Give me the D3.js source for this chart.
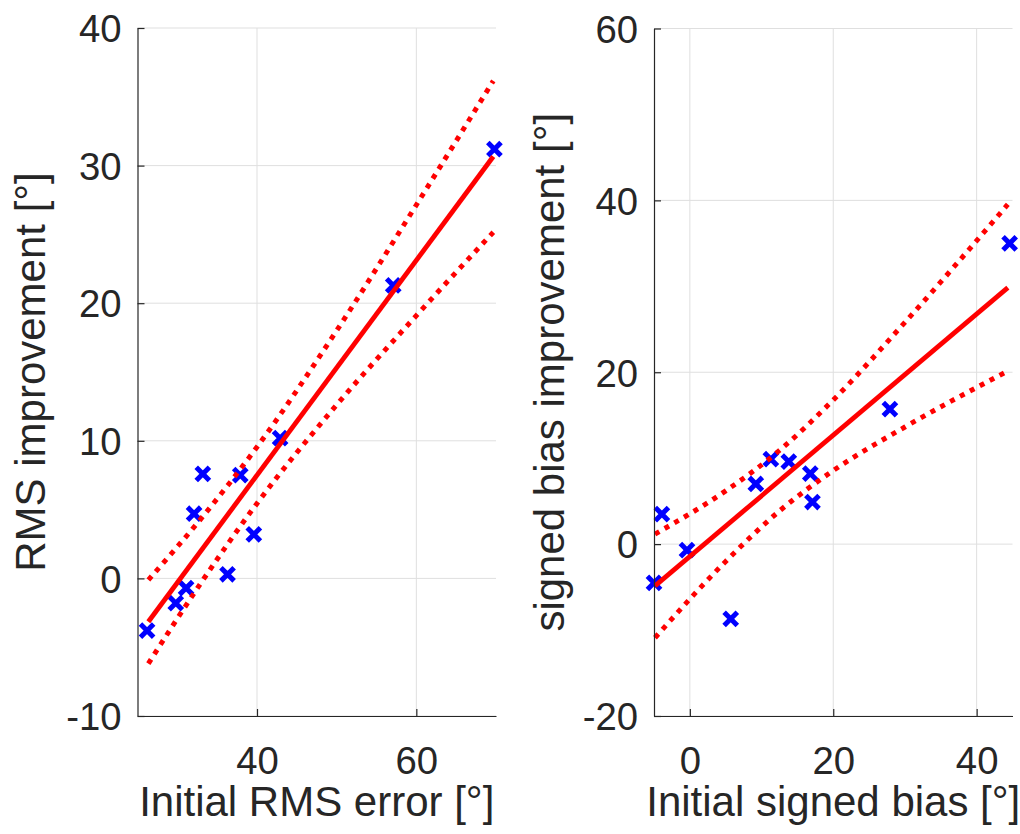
<!DOCTYPE html>
<html><head><meta charset="utf-8">
<script src="https://cdn.jsdelivr.net/npm/d3@7"></script>
<style>
html,body{margin:0;padding:0;background:#fff;}
svg{display:block;}
text{font-family:"Liberation Sans",Arial,Helvetica,sans-serif;fill:#262626;}
</style></head><body>
<svg id="chart" width="1020" height="834"></svg>
<script>
// ---- Left panel data ----
const rmsInitial = [26.2, 29.8, 31.1, 32.1, 33.2, 36.3, 37.9, 39.6, 42.9, 57.1, 69.8];
const rmsImprove = [-3.8, -1.8, -0.7, 4.7, 7.6, 0.3, 7.5, 3.2, 10.2, 21.3, 31.2];
const rmsFitX = [26.36, 69.66];
const rmsFitY = [-3.15, 30.66];
const rmsBandX = [26.36, 33, 40, 50, 60, 69.66];
const rmsBandUpper = [-0.11, 4.36, 9.55, 18.01, 27.14, 36.16];
const rmsBandLower = [-6.19, -0.30, 5.45, 12.61, 19.10, 25.16];
const rmsXTicks = [40, 60];
const rmsYTicks = [-10, 0, 10, 20, 30, 40];

// ---- Right panel data ----
const biasInitial = [-5.0, -3.9, -0.4, 5.7, 9.2, 11.3, 13.8, 16.8, 17.1, 27.9, 44.6];
const biasImprove = [-4.5, 3.5, -0.7, -8.7, 7.0, 9.9, 9.6, 8.2, 4.9, 15.7, 35.0];
const biasFitX = [-4.86, 44.35];
const biasFitY = [-4.86, 29.84];
const biasBandX = [-4.86, 5, 12.5, 20, 30, 44.35];
const biasBandUpper = [1.17, 6.20, 10.90, 16.78, 25.81, 39.54];
const biasBandLower = [-10.89, -2.01, 3.86, 8.56, 13.63, 20.14];
const biasXTicks = [0, 20, 40];
const biasYTicks = [-20, 0, 20, 40, 60];

const svg = d3.select("#chart");
const TICK_FS = 38.3, LABEL_FS = 42;

function panel(cfg){
  const x = d3.scaleLinear().domain(cfg.xDomain).range([cfg.left, cfg.right]);
  const y = d3.scaleLinear().domain(cfg.yDomain).range([cfg.bottom, cfg.top]);
  const g = svg.append("g");
  // grid
  g.append("g").selectAll("line.gx").data(cfg.xTicks).join("line")
    .attr("x1", d=>x(d)).attr("x2", d=>x(d)).attr("y1", cfg.top).attr("y2", cfg.bottom)
    .attr("stroke", "#dfdfdf").attr("stroke-width", 1);
  g.append("g").selectAll("line.gy").data(cfg.yTicks).join("line")
    .attr("x1", cfg.left).attr("x2", cfg.right).attr("y1", d=>y(d)).attr("y2", d=>y(d))
    .attr("stroke", "#dfdfdf").attr("stroke-width", 1);

  // markers
  const pts = cfg.xs.map((v,i)=>[v, cfg.ys[i]]);
  const s = 6.6;
  g.append("g").selectAll("path").data(pts).join("path")
    .attr("d", d=>{const cx=x(d[0]), cy=y(d[1]);
      return `M${cx-s},${cy-s}L${cx+s},${cy+s}M${cx-s},${cy+s}L${cx+s},${cy-s}`;})
    .attr("stroke", "#0000ff").attr("stroke-width", 5).attr("fill","none");

  // fit line
  const line = d3.line().x(d=>x(d[0])).y(d=>y(d[1]));
  g.append("path").datum(cfg.fitX.map((v,i)=>[v, cfg.fitY[i]]))
    .attr("d", line).attr("stroke", "#ff0000").attr("stroke-width", 4.8).attr("fill","none");
  const curve = d3.line().x(d=>x(d[0])).y(d=>y(d[1])).curve(d3.curveMonotoneX);
  [cfg.bandU, cfg.bandL].forEach(b=>{
    g.append("path").datum(cfg.bandX.map((v,i)=>[v, b[i]]))
      .attr("d", curve).attr("stroke", "#ff0000").attr("stroke-width", 5)
      .attr("stroke-dasharray", "5,6.2").attr("fill","none");
  });

  // axes
  const fmt = d => String(d);
  const ax = g.append("g").attr("transform", `translate(0,${cfg.bottom})`)
    .call(d3.axisBottom(x).tickValues(cfg.xTicks).tickSizeInner(-7).tickSizeOuter(0).tickFormat(fmt));
  ax.selectAll("text").attr("y", 57.5).attr("dy", 0).style("font-size", TICK_FS+"px").attr("fill","#262626");
  const ay = g.append("g").attr("transform", `translate(${cfg.left},0)`)
    .call(d3.axisLeft(y).tickValues(cfg.yTicks).tickSizeInner(-7).tickSizeOuter(0).tickFormat(fmt));
  ay.selectAll("text").attr("x", -16).attr("dy", "0.36em").style("font-size", TICK_FS+"px").attr("fill","#262626");
  [ax, ay].forEach(a=>{
    a.select(".domain").attr("stroke", "#262626").attr("stroke-width", 1.2);
    a.selectAll(".tick line").attr("stroke", "#262626").attr("stroke-width", 1.2);
    a.attr("font-family", null).attr("font-size", null);
  });

  // labels
  svg.append("text").attr("x", (cfg.left+cfg.right)/2).attr("y", 816)
    .attr("text-anchor","middle").style("font-size", LABEL_FS+"px").text(cfg.xLabel);
  svg.append("text").attr("transform", `translate(${cfg.yLabelX},${(cfg.top+cfg.bottom)/2}) rotate(-90)`)
    .attr("text-anchor","middle").style("font-size", LABEL_FS+"px").text(cfg.yLabel);
}

panel({left:137.5, right:496, top:28, bottom:716, xDomain:[25,70], yDomain:[-10,40],
  xs:rmsInitial, ys:rmsImprove, fitX:rmsFitX, fitY:rmsFitY,
  bandX:rmsBandX, bandU:rmsBandUpper, bandL:rmsBandLower,
  xTicks:rmsXTicks, yTicks:rmsYTicks,
  xLabel:"Initial RMS error [°]", yLabel:"RMS improvement [°]", yLabelX:45});

panel({left:654, right:1012.5, top:28.5, bottom:716, xDomain:[-5,45], yDomain:[-20,60],
  xs:biasInitial, ys:biasImprove, fitX:biasFitX, fitY:biasFitY,
  bandX:biasBandX, bandU:biasBandUpper, bandL:biasBandLower,
  xTicks:biasXTicks, yTicks:biasYTicks,
  xLabel:"Initial signed bias [°]", yLabel:"signed bias improvement [°]", yLabelX:564});
</script>
</body></html>
